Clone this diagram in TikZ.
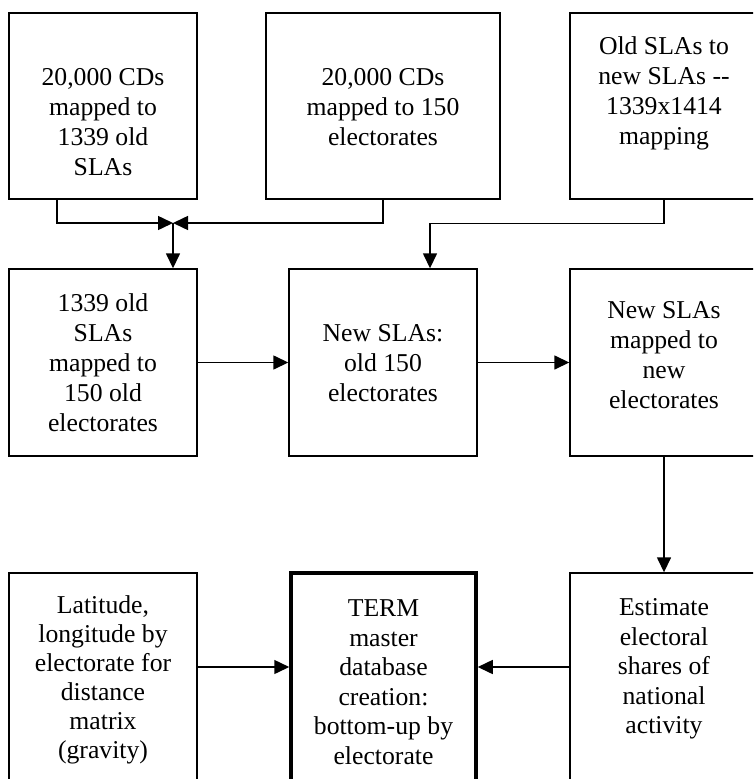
\documentclass[tikz,border=0pt]{standalone}
\usepackage{fontspec}
\setmainfont{Liberation Serif}
\usetikzlibrary{arrows.meta,positioning,calc}

\begin{document}
\begin{tikzpicture}[x=1pt,y=-1pt,
    box/.style={draw,line width=1.4pt,inner sep=0pt,minimum width=188pt},
    txt/.style={align=center,inner sep=0pt,font=\fontsize{25.7}{30}\selectfont},
    arr/.style={line width=1.5pt,-{Triangle[length=15pt,width=14pt]}}]
    \useasboundingbox (0,0) rectangle (753,779);
    \clip (0,0) rectangle (753,779);
    % Top row: source mappings
    \node[box,minimum height=186pt] (cds) at (103,106) {};
    \node[box,minimum height=186pt,minimum width=234pt] (cdel) at (383,106) {};
    \node[box,minimum height=186pt] (map) at (664,106) {};
    \node[txt] (cds-t) at (103,122) {20,000 CDs\\mapped to\\1339 old\\SLAs};
    \node[txt] (cdel-t) at (383,107) {20,000 CDs\\mapped to 150\\electorates};
    \node[txt] (map-t) at (664,93) {Old SLAs to\\new SLAs -{}-\\1339x1414\\mapping};
    % Middle row
    \node[box,minimum height=187pt] (old) at (103,362.5) {};
    \node[box,minimum height=187pt] (newold) at (383,362.5) {};
    \node[box,minimum height=187pt] (newmap) at (664,362.5) {};
    \node[txt] (old-t) at (103,363) {1339 old\\SLAs\\mapped to\\150 old\\electorates};
    \node[txt] (newold-t) at (383,363) {New SLAs:\\old 150\\electorates};
    \node[txt] (newmap-t) at (664,355) {New SLAs\\mapped to\\new\\electorates};
    % Bottom row (cut off at the lower edge)
    \node[box,minimum height=240pt] (lat) at (103,693) {};
    \node[box,minimum height=240pt,minimum width=185pt,line width=3.5pt] (term) at (383.5,693) {};
    \node[box,minimum height=240pt] (est) at (664,693) {};
    \node[txt,font=\fontsize{25.7}{29}\selectfont] (lat-t) at (103,680) {Latitude,\\longitude by\\electorate for\\distance\\matrix\\(gravity)};
    \node[txt,font=\fontsize{25.7}{29.5}\selectfont] (term-t) at (383.5,682) {TERM\\master\\database\\creation:\\bottom-up by\\electorate};
    \node[txt,font=\fontsize{25.7}{29.5}\selectfont] (est-t) at (664,669) {Estimate\\electoral\\shares of\\national\\activity};
    % Connectors
    \coordinate (join) at (173,223);
    \draw[arr] ([xshift=-46pt]cds.south) |- (join);
    \draw[arr] (cdel.south) |- (join);
    \draw[arr] (join) -- (old.north -| join);
    \draw[arr] (map.south) -- ++(0,24) -| ([xshift=47pt]newold.north);
    \draw[arr] (old.east) -- (newold.west);
    \draw[arr] (newold.east) -- (newmap.west);
    \draw[arr] (newmap.south) -- (est.north);
    \draw[arr] ([yshift=26pt]lat.east) -- ([yshift=26pt]term.west);
    \draw[arr] ([yshift=26pt]est.west) -- ([yshift=26pt]term.east);
\end{tikzpicture}
\end{document}
